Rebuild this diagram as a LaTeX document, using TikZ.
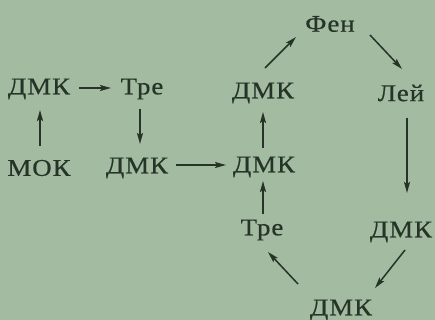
\documentclass[tikz,border=0pt]{standalone}
\usepackage{fontspec}
\setmainfont{Liberation Serif}
\newfontfamily\labfont[LetterSpace=4,FakeStretch=1.12,FakeBold=0.6]{Liberation Serif}
\usetikzlibrary{arrows.meta}
\definecolor{bg}{RGB}{163,187,161}
\definecolor{ink}{RGB}{38,52,40}
\begin{document}
\begin{tikzpicture}[x=1pt,y=-1pt,
  lab/.style={text=ink,font=\labfont\fontsize{24}{26}\selectfont,inner sep=0pt},
  arr/.style={draw=ink,line width=1.5pt,-{Stealth[length=11pt,width=6pt,inset=2pt]}}]
\fill[bg] (0,0) rectangle (435,320);
\useasboundingbox (0,0) rectangle (435,320);
\node[lab] (a) at (39,89) {ДМК};
\node[lab] (t1) at (142,89) {Тре};
\node[lab] (m) at (39,168) {МОК};
\node[lab] (b) at (137,168) {ДМК};
\node[lab] (c) at (264,167) {ДМК};
\node[lab] (f) at (263,93) {ДМК};
\node[lab] (fen) at (330,24) {Фен};
\node[lab] (lei) at (401,93) {Лей};
\node[lab] (d) at (401,232) {ДМК};
\node[lab] (e) at (341,310) {ДМК};
\node[lab] (t2) at (262,230) {Тре};
\coordinate (aR) at (79,88); \coordinate (t1L) at (111,88);
\coordinate (mT) at (40,146); \coordinate (aB) at (40,110);
\coordinate (t1B) at (140,109); \coordinate (bT) at (140,144);
\coordinate (bR) at (176,165); \coordinate (cL) at (226,165);
\coordinate (t2T) at (263,214); \coordinate (cB) at (263,181);
\coordinate (cT) at (263,148); \coordinate (fB) at (263,112);
\coordinate (fT) at (265,68); \coordinate (fenL) at (296,37);
\coordinate (fenR) at (370,35); \coordinate (leiT) at (402,69);
\coordinate (leiB) at (407,118); \coordinate (dT) at (407,193);
\coordinate (dB) at (405,250); \coordinate (eR) at (375,288);
\coordinate (eL) at (298,284); \coordinate (t2B) at (268,252);
\draw[arr] (aR) -- (t1L);
\draw[arr] (mT) -- (aB);
\draw[arr] (t1B) -- (bT);
\draw[arr] (bR) -- (cL);
\draw[arr] (t2T) -- (cB);
\draw[arr] (cT) -- (fB);
\draw[arr] (fT) -- (fenL);
\draw[arr] (fenR) -- (leiT);
\draw[arr] (leiB) -- (dT);
\draw[arr] (dB) -- (eR);
\draw[arr] (eL) -- (t2B);
\end{tikzpicture}
\end{document}
